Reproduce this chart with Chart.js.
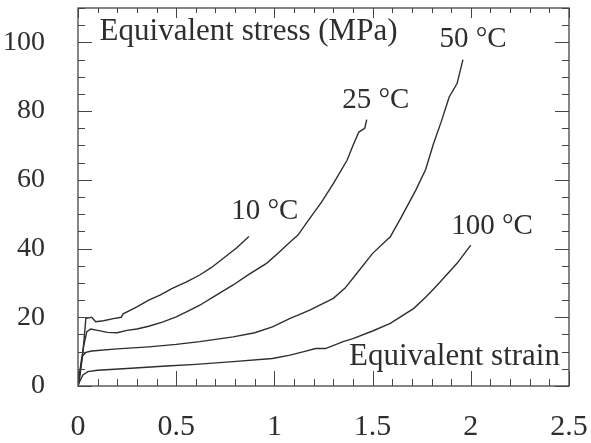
<!DOCTYPE html>
<html>
<head>
<meta charset="utf-8">
<script src="https://cdn.jsdelivr.net/npm/chart.js@4/dist/chart.umd.min.js"></script>
<style>
  html, body { margin: 0; padding: 0; background: #fff; }
  #wrap { width: 591px; height: 443px; }
</style>
</head>
<body>
<div id="wrap"><canvas id="stressChart" width="591" height="443"></canvas></div>
<script>
// Equivalent stress vs equivalent strain at four temperatures

const xTickLabels = [0, 0.5, 1, 1.5, 2, 2.5];
const yTickLabels = [0, 20, 40, 60, 80, 100];
const xMinorStep = 0.1;
const yMinorStep = 5;

const curveLabels = ['10 °C', '25 °C', '50 °C', '100 °C'];

// 10 °C
const strain10 = [0, 0.01, 0.02, 0.03, 0.04, 0.07, 0.09, 0.13, 0.18, 0.22, 0.23, 0.3, 0.36, 0.42, 0.48, 0.55, 0.62, 0.68, 0.75, 0.81, 0.87];
const stress10 = [0, 3, 7.5, 13, 19.7, 20, 18.7, 19.0, 19.6, 20.0, 21, 23, 25, 26.5, 28.4, 30.2, 32.3, 34.5, 37.6, 40.3, 43.5];

// 25 °C
const strain25 = [0, 0.015, 0.03, 0.045, 0.065, 0.1, 0.15, 0.2, 0.25, 0.3, 0.36, 0.43, 0.5, 0.56, 0.62, 0.7, 0.79, 0.87, 0.96, 1.02, 1.08, 1.12, 1.18, 1.24, 1.3, 1.37, 1.4, 1.43, 1.46, 1.47];
const stress25 = [0, 6, 12, 15.8, 16.6, 16.2, 15.6, 15.5, 16.2, 16.6, 17.4, 18.6, 20.1, 21.8, 23.5, 26.3, 29.4, 32.5, 35.7, 38.7, 41.9, 43.9, 48.8, 53.5, 58.9, 65.7, 70, 73.9, 75, 77.5];

// 50 °C
const strain50 = [0, 0.01, 0.02, 0.04, 0.07, 0.2, 0.36, 0.5, 0.62, 0.79, 0.9, 0.99, 1.08, 1.12, 1.18, 1.3, 1.36, 1.42, 1.5, 1.59, 1.64, 1.72, 1.77, 1.81, 1.85, 1.89, 1.93, 1.96];
const stress50 = [0, 4.5, 8.5, 9.8, 10.2, 10.8, 11.4, 12.1, 12.9, 14.3, 15.5, 17.2, 19.7, 20.6, 22.1, 25.5, 28.5, 32.8, 38.6, 43.4, 48.5, 57, 63, 70.5, 77, 84.1, 88, 95];

// 100 °C
const strain100 = [0, 0.01, 0.025, 0.05, 0.1, 0.25, 0.45, 0.6, 0.79, 0.99, 1.08, 1.15, 1.21, 1.26, 1.35, 1.4, 1.5, 1.59, 1.71, 1.77, 1.83, 1.93, 2.0];
const stress100 = [0, 1.5, 3.2, 4.2, 4.6, 5.1, 5.8, 6.3, 7.1, 8.0, 9.0, 10, 10.9, 10.9, 12.9, 13.8, 16, 18.2, 22.6, 25.8, 29.4, 35.7, 41.0];

const INK = '#2e2e2e';
const FONT = '"Liberation Serif", "DejaVu Serif", serif';

function toPoints(xs, ys) {
    return xs.map((x, i) => ({ x: x, y: ys[i] }));
}

function curve(xs, ys) {
    return {
        data: toPoints(xs, ys),
        borderColor: INK,
        borderWidth: 1.4,
        pointRadius: 0,
        tension: 0,
        fill: false
    };
}

// Frame with inward ticks on all four sides, plus the text labels
const framePlugin = {
    id: 'frame',
    afterDraw(chart) {
        const ctx = chart.ctx;
        const xs = chart.scales.x;
        const ys = chart.scales.y;
        const a = chart.chartArea;

        ctx.save();
        ctx.strokeStyle = '#444';
        ctx.lineWidth = 1.3;
        ctx.strokeRect(a.left, a.top, a.right - a.left, a.bottom - a.top);

        ctx.lineWidth = 1;
        ctx.beginPath();
        for (let i = 0; i <= Math.round(xs.max / xMinorStep); i++) {
            const v = i * xMinorStep;
            const major = xTickLabels.some(t => Math.abs(t - v) < 1e-6);
            const len = major ? 15 : 7;
            const px = Math.round(xs.getPixelForValue(v)) + 0.5;
            ctx.moveTo(px, a.bottom); ctx.lineTo(px, a.bottom - len);
            ctx.moveTo(px, a.top); ctx.lineTo(px, a.top + (major ? 10 : 5));
        }
        for (let i = 0; i <= Math.round(ys.max / yMinorStep); i++) {
            const v = i * yMinorStep;
            const major = yTickLabels.includes(v);
            const len = major ? 14 : 7;
            const py = Math.round(ys.getPixelForValue(v)) + 0.5;
            ctx.moveTo(a.left, py); ctx.lineTo(a.left + len, py);
            ctx.moveTo(a.right, py); ctx.lineTo(a.right - len, py);
        }
        ctx.stroke();

        ctx.fillStyle = INK;
        ctx.font = '31px ' + FONT;
        ctx.textBaseline = 'alphabetic';
        ctx.textAlign = 'left';
        ctx.fillText('Equivalent stress (MPa)', xs.getPixelForValue(0.11), ys.getPixelForValue(100.6));
        ctx.fillText('Equivalent strain', xs.getPixelForValue(1.38), ys.getPixelForValue(6.1));

        ctx.font = '29px ' + FONT;
        const spots = [[0.78, 48.5], [1.345, 81], [1.84, 98.6], [1.9, 44.3]];
        curveLabels.forEach((txt, i) => {
            ctx.fillText(txt, xs.getPixelForValue(spots[i][0]), ys.getPixelForValue(spots[i][1]));
        });
        ctx.restore();
    }
};

new Chart(document.getElementById('stressChart').getContext('2d'), {
    type: 'line',
    data: {
        datasets: [
            curve(strain10, stress10),
            curve(strain25, stress25),
            curve(strain50, stress50),
            curve(strain100, stress100)
        ]
    },
    options: {
        responsive: false,
        animation: false,
        layout: {
            padding: { top: 8, right: 22, left: 0, bottom: 0 }
        },
        plugins: {
            legend: { display: false },
            tooltip: { enabled: false }
        },
        scales: {
            x: {
                type: 'linear',
                min: 0,
                max: 2.5,
                grid: { display: false },
                border: { display: false },
                afterBuildTicks: s => { s.ticks = xTickLabels.map(v => ({ value: v })); },
                afterFit: s => {
                    s.height = 57;
                    s.paddingLeft = 0; s.paddingRight = 0;
                    s.paddingTop = 0; s.paddingBottom = 0;
                },
                ticks: {
                    padding: 15,
                    color: INK,
                    font: { family: FONT, size: 30 },
                    maxRotation: 0,
                    callback: v => String(v)
                }
            },
            y: {
                min: 0,
                max: 110,
                grid: { display: false },
                border: { display: false },
                afterBuildTicks: s => { s.ticks = yTickLabels.map(v => ({ value: v })); },
                afterFit: s => {
                    s.width = 78;
                    s.paddingLeft = 0; s.paddingRight = 0;
                    s.paddingTop = 0; s.paddingBottom = 0;
                },
                ticks: {
                    padding: 25,
                    color: INK,
                    font: { family: FONT, size: 28 },
                    callback: v => String(v)
                }
            }
        }
    },
    plugins: [framePlugin]
});
</script>
</body>
</html>
